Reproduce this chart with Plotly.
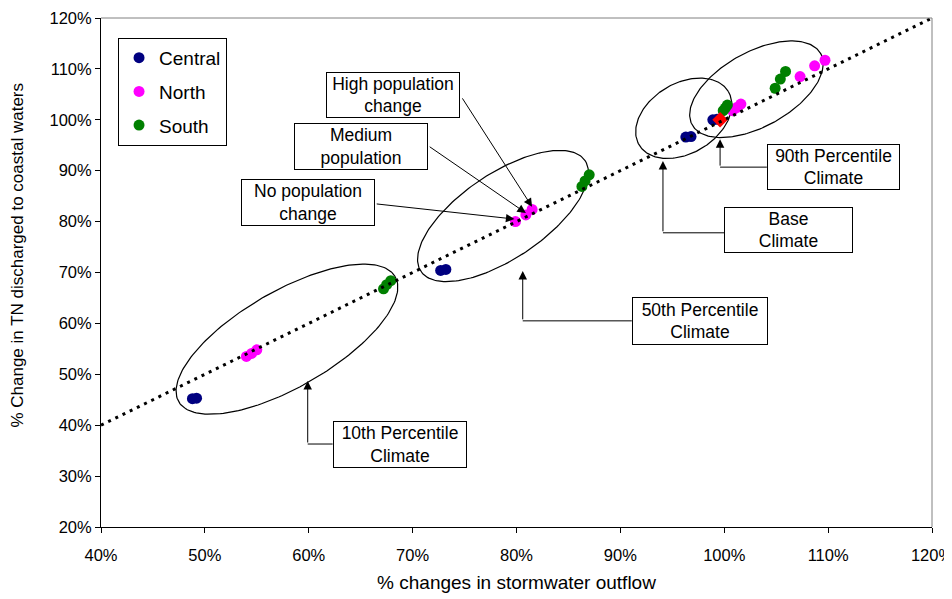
import numpy as np
import plotly.graph_objects as go

# ---------------- data ----------------
x_ticks = [40, 50, 60, 70, 80, 90, 100, 110, 120]
x_tick_labels = ["40%", "50%", "60%", "70%", "80%", "90%", "100%", "110%", "120%"]
y_ticks = [20, 30, 40, 50, 60, 70, 80, 90, 100, 110, 120]
y_tick_labels = ["20%", "30%", "40%", "50%", "60%", "70%", "80%", "90%", "100%", "110%", "120%"]

central_x = [48.8, 49.2, 72.7, 73.2, 96.3, 96.8, 98.9, 99.3]
central_y = [45.2, 45.3, 70.4, 70.6, 96.6, 96.7, 100.0, 100.1]

north_x = [54.0, 54.5, 55.0, 79.9, 80.9, 81.5, 100.8, 101.2, 101.6, 107.3, 108.7, 109.7]
north_y = [53.5, 54.1, 54.8, 80.0, 81.3, 82.4, 101.8, 102.4, 103.1, 108.5, 110.6, 111.7]

south_x = [67.2, 67.5, 67.9, 86.3, 86.6, 87.0, 99.9, 100.1, 100.3, 104.9, 105.4, 105.9]
south_y = [66.8, 67.6, 68.4, 86.9, 88.0, 89.2, 101.8, 102.3, 102.9, 106.2, 108.0, 109.5]

base_x = [99.6]
base_y = [100.0]

one_to_one = [40, 120]

# ---------------- geometry helpers ----------------
# page body has an 8px margin, so the figure is drawn 8px smaller
W, H = 944, 591
ML, MR, MT, MB = 93, 20, 10, 72
PX_X = (W - ML - MR) / 80.0
PX_Y = (H - MT - MB) / 100.0

# ellipses: centre (data), semi-axes (px), tilt (deg)
ellipses = [
    (57.9, 56.9, 125, 48, 30),
    (78.7, 81.1, 99, 42.5, 34),
    (96.1, 100.3, 52, 35, 31),
    (103.1, 106.0, 73.5, 37.3, 29),
]

FONT = "Liberation Sans, Arial, sans-serif"

fig = go.Figure()

t = np.linspace(0, 2 * np.pi, 200)
for cx, cy, a, b, ang in ellipses:
    th = np.radians(ang)
    dx = a * np.cos(t) * np.cos(th) - b * np.sin(t) * np.sin(th)
    dy = a * np.cos(t) * np.sin(th) + b * np.sin(t) * np.cos(th)
    fig.add_trace(go.Scatter(x=cx + dx / PX_X, y=cy + dy / PX_Y, mode="lines",
                             line=dict(color="black", width=1.2),
                             showlegend=False, hoverinfo="skip"))

fig.add_trace(go.Scatter(x=central_x, y=central_y, mode="markers", name="Central",
                         legendgroup="c",
                         marker=dict(color="#000080", size=11)))
fig.add_trace(go.Scatter(x=north_x, y=north_y, mode="markers", name="North",
                         legendgroup="n",
                         marker=dict(color="#FF00FF", size=11)))
fig.add_trace(go.Scatter(x=south_x, y=south_y, mode="markers", name="South",
                         legendgroup="s",
                         marker=dict(color="#008000", size=11)))
fig.add_trace(go.Scatter(x=base_x, y=base_y, mode="markers", showlegend=False,
                         marker=dict(color="#FF0000", size=12, symbol="diamond")))
fig.add_trace(go.Scatter(x=one_to_one, y=one_to_one, mode="lines", showlegend=False,
                         line=dict(color="black", width=3, dash="3px,5px"),
                         hoverinfo="skip"))

font_box = dict(family=FONT, size=17.5, color="black")

# label boxes: (text, x, y, width_px, height_px)
boxes = [
    ("High population<br>change", 68.1, 104.8, 130, 42),
    ("Medium<br>population", 65.0, 94.7, 130, 43),
    ("No population<br>change", 59.9, 83.8, 130, 43),
    ("10th Percentile<br>Climate", 68.8, 36.2, 130, 43),
    ("50th Percentile<br>Climate", 97.7, 60.5, 132, 44),
    ("Base<br>Climate", 106.2, 78.3, 125, 42),
    ("90th Percentile<br>Climate", 110.5, 90.7, 129, 42),
]
annotations = []
for txt, bx, by, bw, bh in boxes:
    annotations.append(dict(text=txt, x=bx, y=by, xref="x", yref="y", showarrow=False,
                            xanchor="center", yanchor="middle", width=bw, height=bh,
                            bordercolor="black", borderwidth=1, borderpad=1,
                            bgcolor="white", font=font_box, align="center"))

# arrows: (start x, start y, end x, end y)
arrows = [
    (74.7, 104.5, 81.5, 82.9),
    (71.5, 94.9, 80.9, 81.7),
    (66.4, 83.5, 79.8, 80.5),
    (59.9, 36.3, 59.9, 48.7),
    (80.6, 60.5, 80.6, 70.3),
    (94.1, 77.8, 94.1, 91.9),
    (99.6, 90.7, 99.6, 96.2),
]
for sx, sy, ex, ey in arrows:
    annotations.append(dict(text="", x=ex, y=ey, ax=sx, ay=sy, xref="x", yref="y",
                            axref="x", ayref="y", showarrow=True, arrowhead=2,
                            arrowsize=1.7, arrowwidth=1, arrowcolor="black", standoff=0))

# y-axis title (placed slightly above plot centre as in the original)
annotations.append(dict(text="% Change in TN discharged to coastal waters",
                        xref="paper", yref="paper", x=-0.1, y=0.535,
                        xanchor="center", yanchor="middle", textangle=-90,
                        showarrow=False,
                        font=dict(family=FONT, size=17, color="black")))

# elbow connectors: (box-left x, corner x, y)
elbows = [
    (62.3, 59.9, 36.3),
    (91.1, 80.6, 60.5),
    (100.0, 94.1, 77.8),
    (104.1, 99.6, 90.7),
]
shapes = []
for x0, x1, yy in elbows:
    shapes.append(dict(type="line", xref="x", yref="y", x0=x0, x1=x1, y0=yy, y1=yy,
                       line=dict(color="black", width=1)))
shapes.append(dict(type="line", xref="paper", yref="paper", x0=0, x1=1, y0=1, y1=1,
                   line=dict(color="#808080", width=1)))
shapes.append(dict(type="line", xref="paper", yref="paper", x0=1, x1=1, y0=0, y1=1,
                   line=dict(color="#808080", width=1)))

fig.update_layout(
    width=W, height=H, autosize=False,
    margin=dict(l=ML, r=MR, t=MT, b=MB, pad=0),
    paper_bgcolor="white", plot_bgcolor="white",
    font=dict(family=FONT, size=16, color="black"),
    showlegend=True,
    legend=dict(x=0.0205, y=0.961, xanchor="left", yanchor="top",
                bordercolor="black", borderwidth=1, bgcolor="white",
                font=dict(family=FONT, size=19, color="black"),
                tracegroupgap=6, itemwidth=30, entrywidth=75),
    xaxis=dict(range=[40, 120], tickvals=x_ticks, ticktext=x_tick_labels,
               ticks="outside", ticklen=5, tickcolor="black", showline=True,
               linecolor="black", linewidth=1, showgrid=False, zeroline=False,
               automargin=False, ticklabelstandoff=8, ticklabeloverflow="allow",
               tickfont=dict(family=FONT, size=16.5, color="black"),
               title=dict(text="% changes in stormwater outflow",
                          font=dict(family=FONT, size=19, color="black"), standoff=12)),
    yaxis=dict(range=[20, 120], tickvals=y_ticks, ticktext=y_tick_labels,
               ticks="outside", ticklen=5, tickcolor="black", showline=True,
               linecolor="black", linewidth=1, showgrid=False, zeroline=False,
               automargin=False, ticklabeloverflow="allow",
               tickfont=dict(family=FONT, size=16.5, color="black")),
    annotations=annotations,
    shapes=shapes,
)

fig.write_html("out.html")
